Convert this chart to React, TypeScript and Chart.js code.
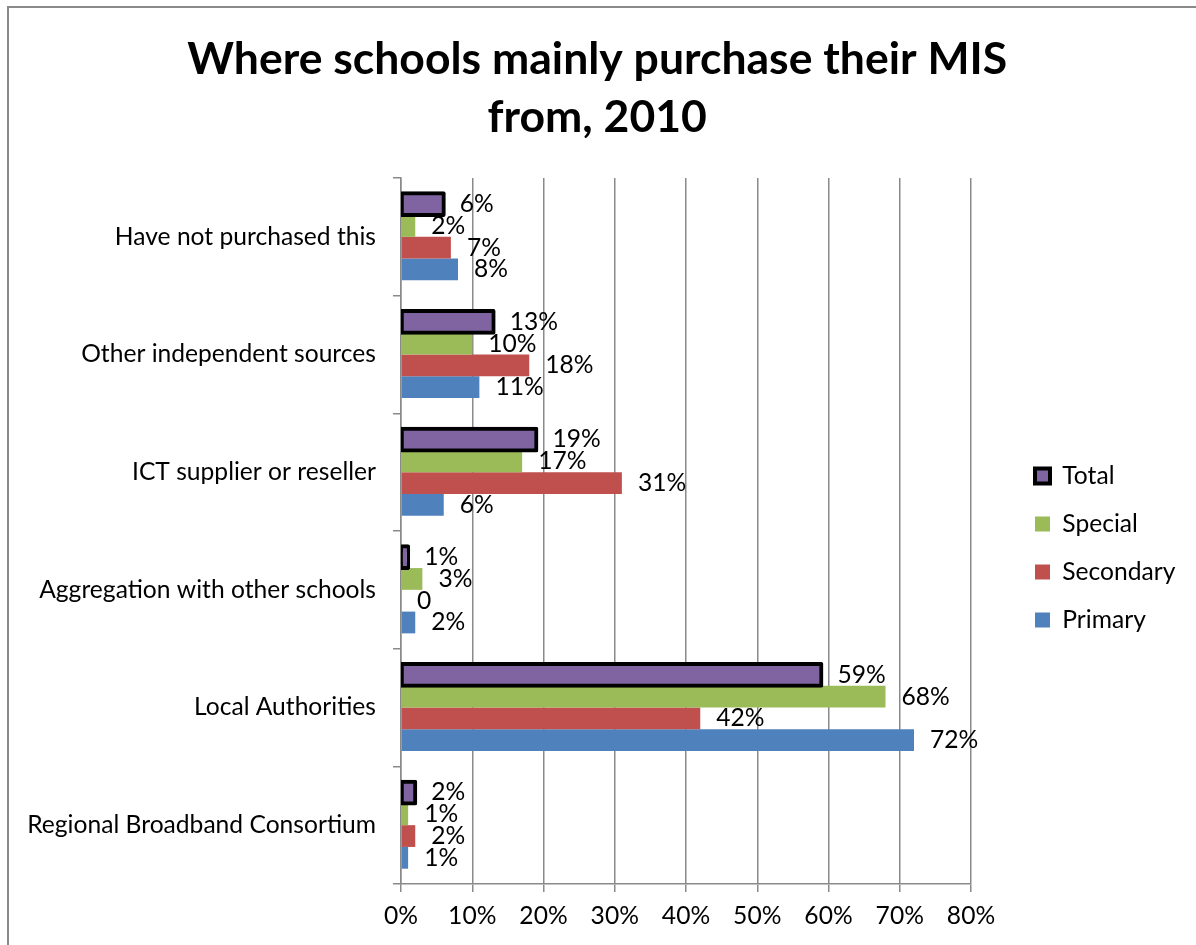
import React, { useEffect, useRef } from 'react';
import { Chart, registerables } from 'chart.js';

Chart.register(...registerables);

// ---- data ----
const categories = [
  'Have not purchased this',
  'Other independent sources',
  'ICT supplier or reseller',
  'Aggregation with other schools',
  'Local Authorities',
  'Regional Broadband Consortium',
];
const seriesNames = ['Total', 'Special', 'Secondary', 'Primary'];
const totalValues = [6, 13, 19, 1, 59, 2];
const specialValues = [2, 10, 17, 3, 68, 1];
const secondaryValues = [7, 18, 31, 0, 42, 2];
const primaryValues = [8, 11, 6, 2, 72, 1];
const xMin = 0;
const xMax = 80;
const xStep = 10;
const titleLines = ['Where schools mainly purchase their MIS', 'from, 2010'];

// ---- styles / layout ----
const seriesColors = ['#8064A2', '#9BBB59', '#C0504D', '#4F81BD'];
const FONT = 'Lato, "Open Sans", sans-serif';
const W = 1187;
const H = 937;
const AREA_LEFT = 392;
const AREA_RIGHT = 962;
const AREA_TOP = 170;
const AREA_BOTTOM = 876;
const LEGEND_BOX_X = 1026;
const LEGEND_STEP = 48;
const TITLE_LINE = 58;
const TITLE_FIRST_MID = 52;

function measure(text: string, weight: string, size: number) {
  const c = document.createElement('canvas').getContext('2d') as CanvasRenderingContext2D;
  c.font = `${weight} ${size}px ${FONT}`;
  return c.measureText(text).width;
}

const barLabels = {
  id: 'barLabels',
  afterDatasetsDraw(chart: any, _args: any, opts: any) {
    const ctx = chart.ctx;
    const xs = chart.scales.x;
    ctx.save();
    ctx.font = `${opts.size}px ${FONT}`;
    ctx.fillStyle = '#000';
    ctx.textAlign = 'left';
    ctx.textBaseline = 'middle';
    chart.data.datasets.forEach((ds: any, di: number) => {
      const meta = chart.getDatasetMeta(di);
      meta.data.forEach((bar: any, i: number) => {
        const v = ds.data[i];
        const txt = v === 0 ? '0' : `${v}%`;
        ctx.fillText(txt, xs.getPixelForValue(v) + 16, bar.y);
      });
    });
    ctx.restore();
  },
};

export default function App() {
  const ref = useRef<HTMLCanvasElement>(null);

  useEffect(() => {
    if (!ref.current) return;
    const fs = (100 * 349) / measure(categories[5], 'normal', 100);
    const ts = (100 * 820) / measure(titleLines[0], 'bold', 100);
    const legendPad = LEGEND_STEP - fs;
    const maxW = Math.max(...seriesNames.map((n) => measure(n, 'normal', fs)));
    const legendWidth = legendPad + 15 + fs / 2 + maxW + 10;
    const legendLeft = LEGEND_BOX_X - legendPad;
    const dummyWidth = legendLeft - AREA_RIGHT;
    const padRight = W - legendLeft - legendWidth;
    const titlePadTop = TITLE_FIRST_MID - TITLE_LINE / 2;
    const titlePadBottom = AREA_TOP - 2 * TITLE_LINE - titlePadTop;

    const chart = new Chart(ref.current, {
      type: 'bar',
      data: {
        labels: categories,
        datasets: [
          {
            label: seriesNames[0],
            data: totalValues,
            backgroundColor: seriesColors[0],
            borderColor: '#000000',
            borderWidth: 4,
            borderRadius: 2,
            borderSkipped: false,
            inflateAmount: 2,
          },
          {
            label: seriesNames[1],
            data: specialValues,
            backgroundColor: seriesColors[1],
            borderWidth: 0,
          },
          {
            label: seriesNames[2],
            data: secondaryValues,
            backgroundColor: seriesColors[2],
            borderWidth: 0,
          },
          {
            label: seriesNames[3],
            data: primaryValues,
            backgroundColor: seriesColors[3],
            borderWidth: 0,
          },
        ] as any,
      },
      options: {
        indexAxis: 'y',
        responsive: false,
        animation: false,
        devicePixelRatio: 1,
        datasets: { bar: { categoryPercentage: 0.74, barPercentage: 1 } } as any,
        layout: { padding: { left: 0, top: 0, bottom: 0, right: padRight } },
        scales: {
          y: {
            type: 'category',
            position: 'left',
            offset: true,
            grid: {
              offset: true,
              drawOnChartArea: false,
              drawTicks: true,
              tickLength: 8,
              color: '#8a8a8a',
              lineWidth: 1.5,
            },
            border: { display: true, color: '#8a8a8a', width: 1.5 },
            ticks: { color: '#000', padding: 17, font: { family: FONT, size: fs } },
            afterFit: (s: any) => {
              s.width = AREA_LEFT;
            },
          },
          y2: {
            type: 'linear',
            position: 'right',
            display: true,
            grid: { display: false, drawTicks: false },
            border: { display: false },
            ticks: { display: false },
            afterFit: (s: any) => {
              s.width = dummyWidth;
            },
          },
          x: {
            type: 'linear',
            min: xMin,
            max: xMax,
            grid: {
              color: '#8a8a8a',
              lineWidth: 1.5,
              drawTicks: true,
              tickLength: 8,
            },
            border: { display: true, color: '#8a8a8a', width: 1.5 },
            ticks: {
              stepSize: xStep,
              color: '#000',
              padding: 9,
              maxRotation: 0,
              autoSkip: false,
              font: { family: FONT, size: fs },
              callback: (v: any) => `${v}%`,
            },
            afterFit: (s: any) => {
              s.height = H - AREA_BOTTOM;
            },
          },
        } as any,
        plugins: {
          title: {
            display: true,
            text: titleLines,
            color: '#000',
            font: { family: FONT, size: ts, weight: 'bold', lineHeight: TITLE_LINE / ts },
            padding: { top: titlePadTop, bottom: titlePadBottom },
          },
          legend: {
            position: 'right',
            fullSize: false,
            align: 'center',
            title: {
              display: true,
              text: '',
              padding: { top: 12, bottom: 12 },
              font: { size: 10, lineHeight: 1 },
            },
            labels: {
              boxWidth: 15,
              boxHeight: 15,
              padding: legendPad,
              color: '#000',
              font: { family: FONT, size: fs },
            },
          },
          tooltip: { enabled: false },
          barLabels: { size: fs },
        } as any,
      },
      plugins: [barLabels],
    });
    return () => chart.destroy();
  }, []);

  return (
    <div
      style={{
        position: 'fixed',
        left: 7,
        top: 6,
        width: W + 2,
        height: H + 2,
        borderLeft: '2px solid #8a8a8a',
        borderTop: '2px solid #8a8a8a',
        boxSizing: 'border-box',
        overflow: 'hidden',
        background: '#fff',
      }}
    >
      <canvas ref={ref} width={W} height={H} style={{ display: 'block', width: W, height: H }} />
    </div>
  );
}
